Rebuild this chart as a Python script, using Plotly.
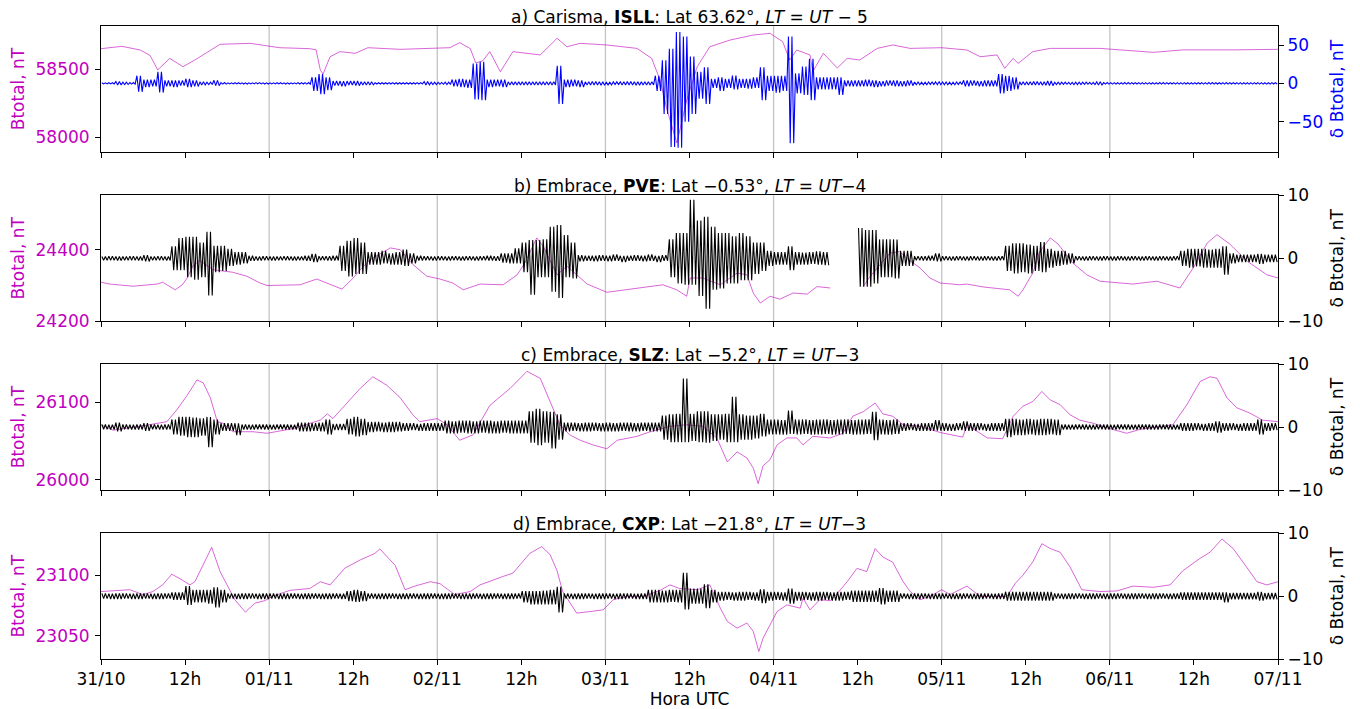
import plotly.graph_objects as go

# ---------------------------------------------------------------------------
# Data: hours since 31/10 00:00 UTC
# Btotal (left axis) samples: hour, nT
# ---------------------------------------------------------------------------
ISLL_T = [0, 3.0, 5.6, 7.0, 8.1, 9.8, 11.7, 13.4, 17.0, 21.3,
          25.5, 29.8, 30.7, 31.3, 31.7, 32.7, 34.1, 36.3, 38.1, 42.7,
          49.8, 51.2, 52.7, 53.5, 54.5, 55.5, 57.0, 58.8, 62.7, 65.1,
          66.5, 68.4, 72.2, 76.5, 78.6, 79.8, 80.8, 82.2, 83.6, 85.1,
          86.9, 89.8, 93.1, 95.5, 97.3, 98.3, 99.3, 101.2, 101.6, 103.1,
          105.1, 106.5, 108.3, 110.8, 113.0, 115.5, 120.0, 123.6, 125.5, 127.9,
          129.0, 130.2, 130.9, 133.0, 135.5, 142.6, 150.2, 154.4, 161.6, 168]
ISLL_B = [58649, 58666, 58639, 58600, 58493, 58578, 58517, 58566, 58681, 58688,
          58656, 58649, 58640, 58493, 58463, 58590, 58627, 58615, 58656, 58644,
          58656, 58693, 58650, 58544, 58560, 58627, 58480, 58627, 58603, 58725,
          58663, 58688, 58676, 58651, 58578, 58419, 58200, 57958, 58273, 58517,
          58663, 58712, 58749, 58761, 58700, 58566, 58639, 58603, 58480, 58615,
          58507, 58578, 58566, 58651, 58676, 58651, 58656, 58639, 58590, 58603,
          58505, 58578, 58541, 58627, 58651, 58651, 58622, 58640, 58640, 58644]

PVE_T = [0, 1.3, 4.6, 8.0, 8.8, 10.6, 11.6, 12.3, 13.1, 14.1,
         16.0, 18.8, 20.8, 22.7, 23.7, 28.4, 30.8, 32.3, 34.4, 36.0,
         37.0, 38.4, 41.3, 42.7, 44.5, 46.5, 48.4, 50.2, 51.7, 54.1,
         57.4, 59.4, 60.5, 62.2, 63.1, 65.1, 66.5, 67.9, 69.4, 72.2,
         76.5, 80.2, 82.2, 83.6, 84.1, 85.9, 88.4, 90.8, 92.2, 93.1,
         94.1, 95.5, 96.9, 98.8, 100.8, 102.2, 104.1, 106.0, 108.8, 109.8,
         110.8, 112.6, 114.0, 115.0, 116.9, 118.3, 119.8, 122.6, 123.6, 125.9,
         129.7, 130.9, 131.6, 133.0, 134.0, 135.5, 136.6, 138.7, 140.7, 142.6,
         147.3, 150.7, 154.0, 155.9, 157.9, 159.3, 161.1, 163.6, 166.4, 168]
PVE_B = [24309, 24304, 24298, 24304, 24309, 24288, 24302, 24321, 24354, 24370,
         24344, 24337, 24326, 24307, 24300, 24302, 24318, 24307, 24290, 24321,
         24344, 24372, 24405, 24400, 24359, 24326, 24318, 24307, 24288, 24304,
         24302, 24330, 24363, 24433, 24410, 24330, 24354, 24330, 24304, 24281,
         24293, 24302, 24288, 24270, 24321, 24321, 24302, 24335, 24330, 24279,
         24251, 24270, 24262, 24279, 24276, 24297, 24293, None, 24297, 24326,
         24349, 24390, 24395, 24376, 24349, 24321, 24307, 24302, 24304, 24296,
         24288, 24270, 24288, 24335, 24395, 24433, 24416, 24363, 24330, 24312,
         24304, 24312, 24293, 24349, 24419, 24442, 24416, 24368, 24330, 24321]

SLZ_T = [0, 1.7, 5.6, 9.4, 10.8, 12.3, 13.7, 14.6, 15.6, 16.6,
         17.4, 18.8, 21.7, 23.7, 27.4, 31.3, 32.3, 33.1, 35.1, 37.0,
         38.8, 40.8, 42.7, 44.5, 45.5, 48.0, 49.4, 51.2, 53.1, 55.5,
         58.4, 60.8, 62.7, 64.1, 65.5, 66.9, 68.4, 70.2, 72.2, 73.7,
         76.5, 78.4, 81.2, 83.6, 85.9, 87.9, 89.4, 90.8, 92.2, 93.1,
         93.8, 94.5, 95.5, 96.5, 97.9, 99.3, 100.2, 101.6, 104.1, 105.9,
         107.3, 108.8, 110.5, 111.6, 113.0, 114.5, 116.9, 119.8, 122.2, 123.0,
         123.6, 126.5, 128.7, 130.2, 131.6, 133.0, 134.3, 135.5, 136.9, 138.3,
         139.7, 141.6, 144.0, 146.4, 148.3, 153.0, 155.0, 156.9, 158.3, 159.3,
         160.7, 162.1, 164.0, 165.8, 168]
SLZ_B = [26071, 26064, 26069, 26075, 26090, 26109, 26129, 26125, 26106, 26075,
         26073, 26062, 26062, 26060, 26066, 26077, 26085, 26079, 26099, 26118,
         26133, 26122, 26106, 26084, 26075, 26079, 26071, 26051, 26058, 26096,
         26118, 26140, 26131, 26100, 26071, 26058, 26051, 26045, 26040, 26051,
         26056, 26062, 26069, 26071, 26069, 26054, 26023, 26036, 26028, 26015,
         25995, 26018, 26026, 26045, 26054, 26054, 26045, 26056, 26054, 26060,
         26082, 26088, 26099, 26085, 26082, 26071, 26069, 26061, 26056, 26055,
         26071, 26054, 26053, 26082, 26095, 26101, 26114, 26103, 26097, 26084,
         26077, 26073, 26066, 26060, 26065, 26071, 26097, 26127, 26133, 26131,
         26106, 26093, 26086, 26077, 26075]

CXP_T = [0, 1.3, 4.1, 6.0, 7.4, 8.8, 10.1, 11.3, 12.7, 13.4,
         14.8, 15.8, 17.0, 18.1, 19.1, 20.6, 22.0, 23.4, 24.6, 27.0,
         29.8, 31.3, 32.7, 34.8, 37.0, 39.1, 39.8, 42.0, 43.4, 44.8,
         47.0, 48.4, 50.5, 52.7, 54.1, 57.4, 58.8, 61.2, 62.9, 64.1,
         65.1, 65.9, 67.9, 69.8, 71.7, 73.1, 75.1, 77.4, 79.8, 81.2,
         82.6, 85.1, 86.9, 88.4, 89.4, 90.8, 92.2, 93.1, 93.9, 94.5,
         95.5, 96.5, 97.9, 99.8, 100.2, 101.2, 102.6, 104.1, 105.1, 106.5,
         107.9, 109.3, 110.5, 111.6, 113.0, 114.5, 115.5, 116.9, 118.3, 120.0,
         121.2, 123.6, 125.5, 129.3, 130.5, 131.6, 133.0, 134.3, 135.5, 136.9,
         138.3, 140.0, 142.6, 145.0, 147.3, 150.2, 152.6, 154.4, 156.9, 158.3,
         160.0, 161.6, 163.6, 165.0, 166.4, 168]
CXP_B = [23086.5, 23087, 23088, 23084, 23086.5, 23092, 23100.8, 23097, 23092, 23094.6,
         23111, 23123, 23103, 23090.7, 23079.7, 23069.5, 23077, 23079, 23082.9, 23087.5,
         23089, 23094.6, 23092, 23105.8, 23112.6, 23118, 23121.7, 23108, 23088, 23091,
         23094.6, 23093, 23084, 23086.5, 23092, 23099, 23101.7, 23118, 23123.6, 23117,
         23103.6, 23086.5, 23068.7, 23070, 23071.4, 23079.7, 23082.4, 23082.4, 23087.5, 23092,
         23089, 23088, 23092, 23072.8, 23061.8, 23056.3, 23060.5, 23053.6, 23037, 23048,
         23059, 23070, 23075.5, 23072.8, 23081, 23071.4, 23079.7, 23079, 23085, 23094.6,
         23105.6, 23103, 23122, 23115, 23110.8, 23094.6, 23086.5, 23079.7, 23082.4, 23088,
         23084, 23091, 23082.4, 23082.4, 23093.3, 23100, 23111, 23126, 23122, 23119,
         23107, 23088, 23086.5, 23087, 23091, 23090, 23092, 23103.6, 23114, 23119,
         23129.9, 23122, 23106, 23094.6, 23092, 23094.6]

# ---------------------------------------------------------------------------
# delta Btotal (right axis): hourly positive / negative excursions, nT
# ---------------------------------------------------------------------------
ISLL_DHI = [
    0.7, 0.8, 2.5, 1.5, 1.0, 10, 5, 5, 15, 4, 4, 4,
    6, 4, 2, 1.5, 4, 1.0, 0.7, 0.8, 0.7, 0.7, 0.9, 0.7,
    0.7, 0.8, 0.7, 0.7, 0.9, 1.0, 8, 12, 8, 3, 3, 3,
    3, 2, 2, 0.8, 0.8, 0.9, 0.8, 0.8, 0.8, 0.9, 2.5, 1.5,
    1.2, 1.5, 5, 6, 5, 26, 28, 5, 5, 5, 2, 2,
    2, 2, 2, 2, 2, 23, 5, 5, 4, 2, 2.5, 2,
    1.5, 2, 2, 2.5, 2, 2, 2, 10, 30, 45, 67, 61,
    35, 15, 21, 6, 8, 6, 10, 6, 6, 8, 21, 10,
    10, 10, 61, 13, 22, 32, 8, 8, 8, 8, 4, 4,
    4, 5, 4, 3, 4, 4, 3, 4, 1.8, 1.5, 1.8, 2,
    1.8, 1.5, 1.8, 4, 4, 3, 4, 4, 12, 10, 8, 2,
    2, 2.5, 2, 3, 1.5, 1.5, 1.2, 1.5, 1.5, 1.2, 2, 1.0,
    1.0, 0.8, 1.0, 1.0, 0.9, 1.0, 0.8, 1.0, 1.0, 0.9, 1.0, 0.8,
    1.0, 0.9, 1.0, 0.8, 1.0, 1.0, 0.9, 0.8, 1.0, 0.9, 0.8, 1.0,
]
ISLL_DLO = [
    0.7, 0.7, 2.0, 1.5, 1.0, 11, 5, 4, 12, 4, 5, 3,
    5, 4, 2, 1.5, 3, 1.0, 0.7, 0.7, 0.8, 0.7, 0.7, 0.8,
    0.7, 0.7, 0.8, 0.7, 0.8, 1.0, 10, 14, 9, 3, 4, 2,
    3, 2, 2, 0.8, 0.9, 0.8, 0.8, 0.9, 0.8, 0.8, 2.0, 1.5,
    1.2, 1.5, 4, 5, 6, 21, 22, 5, 4, 5, 2, 2,
    2, 2, 2, 2, 2, 27, 5, 4, 5, 2, 2, 2.5,
    2, 1.5, 2, 2, 2.5, 2, 2, 10, 40, 83, 84, 50,
    40, 20, 27, 6, 10, 6, 8, 6, 7, 6, 22, 10,
    12, 10, 78, 13, 15, 22, 8, 8, 8, 15, 4, 4,
    4, 4, 5, 4, 3, 4, 4, 3, 1.8, 1.8, 1.5, 1.8,
    1.8, 1.8, 1.5, 4, 3, 4, 4, 4, 13, 10, 8, 2,
    2, 2, 2.5, 3, 1.5, 1.2, 1.5, 1.5, 1.2, 1.5, 2, 1.0,
    0.9, 1.0, 1.0, 0.8, 1.0, 0.9, 1.0, 1.0, 0.8, 1.0, 0.9, 1.0,
    0.8, 1.0, 1.0, 0.9, 1.0, 0.8, 1.0, 1.0, 0.9, 1.0, 1.0, 0.8,
]

PVE_DHI = [
    0.3, 0.35, 0.3, 0.3, 0.35, 0.3, 0.5, 0.3, 0.35, 0.3, 1.9, 3.2,
    3.4, 3.4, 2.5, 4.2, 2.0, 2.0, 1.5, 1.0, 1.0, 0.4, 0.3, 0.35,
    0.3, 0.3, 0.35, 0.3, 0.3, 0.4, 0.7, 0.35, 0.35, 0.4, 2.0, 2.8,
    3.2, 2.5, 1.0, 1.0, 1.2, 0.8, 1.0, 1.4, 0.8, 0.4, 0.35, 0.3,
    0.35, 0.3, 0.35, 0.3, 0.35, 0.3, 0.35, 0.4, 0.35, 0.8, 0.8, 1.6,
    2.5, 2.9, 2.9, 3.0, 5.0, 5.3, 3.7, 2.5, 0.5, 0.4, 0.4, 0.5,
    0.4, 0.6, 0.4, 0.4, 0.5, 0.4, 0.6, 0.4, 0.5, 3.0, 4.0, 4.0,
    9.3, 6.0, 6.6, 5.0, 4.0, 4.0, 3.5, 4.0, 3.5, 2.5, 2.5, 1.2,
    1.0, 1.0, 1.9, 1.0, 0.9, 1.0, 1.1, 1.0, None, None, None, None,
    4.8, 4.5, 4.5, 3.0, 3.0, 3.0, 1.2, 1.2, 0.35, 0.35, 0.4, 0.8,
    0.35, 0.3, 0.35, 0.3, 0.35, 0.3, 0.35, 0.3, 0.35, 2.0, 2.4, 2.4,
    2.2, 2.0, 2.6, 1.5, 1.2, 1.2, 0.8, 0.35, 0.3, 0.35, 0.3, 0.35,
    0.3, 0.35, 0.3, 0.35, 0.3, 0.35, 0.3, 0.35, 0.3, 0.35, 1.2, 1.5,
    1.5, 1.5, 1.4, 1.5, 1.9, 0.8, 0.6, 0.6, 0.6, 0.7, 0.6, 0.6,
]
PVE_DLO = [
    0.3, 0.3, 0.35, 0.3, 0.3, 0.35, 0.5, 0.3, 0.3, 0.35, 1.9, 1.9,
    3.0, 3.4, 3.0, 5.9, 2.2, 2.0, 1.2, 1.0, 0.8, 0.4, 0.35, 0.3,
    0.35, 0.3, 0.3, 0.35, 0.3, 0.4, 0.6, 0.3, 0.35, 0.35, 2.0, 2.9,
    2.5, 2.5, 1.0, 1.0, 0.8, 1.0, 1.0, 1.2, 0.8, 0.35, 0.3, 0.35,
    0.3, 0.35, 0.3, 0.35, 0.3, 0.35, 0.3, 0.35, 0.4, 0.7, 0.8, 0.8,
    2.2, 5.8, 3.0, 3.0, 5.3, 6.3, 3.0, 3.2, 0.5, 0.4, 0.5, 0.4,
    0.5, 0.4, 0.6, 0.4, 0.4, 0.5, 0.4, 0.6, 0.4, 3.0, 4.0, 4.2,
    4.2, 6.0, 8.0, 5.0, 4.8, 4.0, 4.0, 3.5, 3.5, 2.5, 2.0, 1.2,
    1.0, 1.0, 1.9, 1.0, 1.0, 0.9, 1.0, 1.1, None, None, None, None,
    4.5, 4.5, 4.0, 3.0, 3.0, 3.2, 1.2, 1.2, 0.3, 0.35, 0.35, 0.5,
    0.3, 0.35, 0.3, 0.35, 0.3, 0.35, 0.3, 0.35, 0.3, 2.0, 2.4, 2.2,
    2.4, 2.0, 2.2, 1.5, 1.2, 1.0, 0.8, 0.3, 0.35, 0.3, 0.35, 0.3,
    0.35, 0.3, 0.35, 0.3, 0.35, 0.3, 0.35, 0.3, 0.35, 0.3, 1.2, 1.5,
    1.3, 1.5, 1.5, 1.5, 2.6, 0.8, 0.6, 0.6, 0.6, 0.9, 0.6, 0.6,
]

SLZ_DHI = [
    0.4, 0.35, 0.7, 0.4, 0.35, 0.4, 0.6, 0.4, 0.35, 0.4, 1.2, 1.6,
    1.6, 1.5, 1.4, 1.6, 1.2, 0.6, 0.6, 0.6, 0.4, 0.35, 0.4, 0.4,
    0.35, 0.4, 0.4, 0.35, 0.7, 0.7, 0.6, 0.7, 1.2, 0.5, 0.5, 1.3,
    1.6, 1.3, 0.8, 0.8, 0.7, 0.8, 0.8, 0.6, 0.6, 0.5, 0.6, 0.6,
    0.6, 1.0, 0.9, 1.0, 1.0, 0.9, 1.0, 1.0, 0.9, 1.0, 1.0, 1.0,
    1.0, 2.5, 2.9, 2.5, 2.4, 2.0, 0.7, 0.7, 0.6, 0.7, 0.7, 0.6,
    0.7, 0.6, 0.7, 0.7, 0.6, 0.7, 0.7, 0.7, 1.8, 2.0, 2.1, 7.7,
    2.1, 2.5, 2.5, 2.0, 2.0, 2.1, 4.8, 2.0, 1.8, 1.8, 2.1, 1.2,
    1.2, 1.1, 2.6, 1.2, 1.2, 1.1, 1.2, 1.2, 1.1, 1.2, 1.2, 1.1,
    1.2, 1.2, 2.4, 1.2, 1.1, 1.2, 0.6, 0.6, 0.5, 0.6, 0.6, 1.1,
    0.6, 0.5, 0.6, 0.9, 0.6, 0.6, 0.5, 0.6, 0.6, 1.3, 1.3, 1.2,
    1.3, 1.2, 1.3, 1.3, 1.2, 0.4, 0.35, 0.4, 0.4, 0.35, 0.4, 0.4,
    0.35, 0.4, 0.4, 0.35, 0.4, 0.4, 0.35, 0.4, 0.4, 0.35, 0.6, 0.6,
    0.6, 0.5, 0.6, 0.9, 0.6, 0.6, 0.5, 0.6, 0.6, 1.2, 0.6, 0.6,
]
SLZ_DLO = [
    0.35, 0.4, 0.7, 0.35, 0.4, 0.4, 0.6, 0.35, 0.4, 0.4, 1.2, 1.4,
    1.6, 1.6, 1.4, 3.2, 1.2, 0.6, 0.6, 1.3, 0.4, 0.4, 0.35, 0.4,
    0.4, 0.35, 0.4, 0.4, 0.7, 0.7, 0.6, 0.7, 1.2, 0.5, 0.5, 1.2,
    1.5, 1.3, 0.8, 0.7, 0.8, 0.8, 0.7, 0.6, 0.5, 0.6, 0.6, 0.6,
    0.6, 1.0, 1.0, 0.9, 1.0, 1.0, 0.9, 1.0, 1.0, 0.9, 1.0, 1.0,
    1.0, 2.5, 2.9, 2.5, 3.4, 2.0, 0.7, 0.6, 0.7, 0.7, 0.6, 0.7,
    0.7, 0.7, 0.6, 0.7, 0.7, 0.6, 0.7, 0.7, 2.0, 2.4, 2.4, 2.4,
    2.2, 2.4, 2.5, 2.2, 2.0, 2.4, 2.4, 2.0, 2.0, 1.8, 1.5, 1.2,
    1.2, 1.2, 1.1, 1.2, 1.1, 1.2, 1.2, 1.1, 1.2, 1.2, 1.1, 1.2,
    1.2, 1.1, 2.1, 1.2, 1.2, 1.1, 0.6, 0.5, 0.6, 0.6, 0.6, 0.6,
    0.6, 0.6, 0.5, 0.6, 0.6, 0.5, 0.6, 0.6, 0.6, 1.6, 1.3, 1.3,
    1.2, 1.3, 1.3, 1.2, 1.3, 0.4, 0.4, 0.35, 0.4, 0.4, 0.35, 0.4,
    0.4, 0.35, 0.4, 0.4, 0.35, 0.4, 0.4, 0.35, 0.4, 0.4, 0.6, 0.6,
    0.5, 0.6, 0.6, 0.9, 0.6, 0.5, 0.6, 0.6, 0.6, 1.2, 0.6, 0.5,
]

CXP_DHI = [
    0.45, 0.4, 0.45, 0.45, 0.4, 0.45, 0.45, 0.4, 0.45, 0.45, 0.6, 0.6,
    1.6, 1.0, 1.0, 1.0, 1.4, 1.0, 0.45, 0.4, 0.45, 0.45, 0.4, 0.45,
    0.45, 0.4, 0.45, 0.45, 0.4, 0.45, 0.45, 0.4, 0.45, 0.45, 0.4, 0.8,
    1.0, 0.8, 0.45, 0.4, 0.45, 0.45, 0.4, 0.45, 0.45, 0.4, 0.45, 0.45,
    0.4, 0.45, 0.45, 0.4, 0.45, 0.45, 0.4, 0.45, 0.45, 0.4, 0.45, 0.45,
    0.8, 0.8, 0.8, 0.9, 1.0, 1.5, 0.45, 0.4, 0.45, 0.45, 0.4, 0.45,
    0.45, 0.4, 0.45, 0.45, 0.4, 0.45, 1.0, 1.0, 0.9, 1.0, 1.0, 3.7,
    1.2, 1.2, 1.9, 1.0, 0.7, 0.7, 0.6, 0.7, 0.7, 0.6, 1.1, 0.7,
    0.7, 0.6, 1.2, 0.7, 0.7, 0.6, 0.7, 0.7, 0.6, 0.7, 0.7, 0.9,
    0.9, 0.9, 0.9, 1.3, 0.9, 0.9, 0.45, 0.4, 0.45, 0.45, 0.4, 0.45,
    0.45, 0.4, 0.45, 0.45, 0.4, 0.45, 0.45, 0.4, 0.45, 0.7, 0.7, 0.7,
    0.7, 0.7, 0.7, 0.7, 0.45, 0.4, 0.45, 0.45, 0.4, 0.45, 0.45, 0.4,
    0.45, 0.45, 0.4, 0.45, 0.45, 0.4, 0.45, 0.45, 0.4, 0.45, 0.6, 0.6,
    0.6, 0.6, 0.6, 0.6, 0.6, 0.5, 0.5, 0.5, 0.5, 0.7, 0.5, 0.5,
]
CXP_DLO = [
    0.4, 0.45, 0.45, 0.4, 0.45, 0.45, 0.4, 0.45, 0.45, 0.4, 0.6, 0.6,
    1.4, 1.0, 1.0, 1.2, 1.8, 1.0, 0.4, 0.45, 0.45, 0.4, 0.45, 0.45,
    0.4, 0.45, 0.45, 0.4, 0.45, 0.45, 0.4, 0.45, 0.45, 0.4, 0.45, 0.8,
    0.9, 0.8, 0.4, 0.45, 0.45, 0.4, 0.45, 0.45, 0.4, 0.45, 0.45, 0.4,
    0.45, 0.45, 0.4, 0.45, 0.45, 0.4, 0.45, 0.45, 0.4, 0.45, 0.45, 0.4,
    1.0, 1.3, 1.3, 1.3, 1.3, 2.6, 0.4, 0.45, 0.45, 0.4, 0.45, 0.45,
    0.4, 0.45, 0.45, 0.4, 0.45, 0.45, 1.0, 1.0, 1.0, 0.9, 1.0, 2.1,
    1.2, 1.2, 1.9, 1.0, 0.7, 0.6, 0.7, 0.7, 0.6, 0.7, 1.1, 0.7,
    0.6, 0.7, 1.2, 0.7, 0.6, 0.7, 0.7, 0.6, 0.7, 0.7, 0.6, 0.9,
    0.9, 0.9, 0.9, 1.3, 0.9, 0.9, 0.4, 0.45, 0.45, 0.4, 0.45, 0.45,
    0.4, 0.45, 0.45, 0.4, 0.45, 0.45, 0.4, 0.45, 0.45, 0.7, 0.7, 0.7,
    0.7, 0.7, 0.7, 0.7, 0.4, 0.45, 0.45, 0.4, 0.45, 0.45, 0.4, 0.45,
    0.45, 0.4, 0.45, 0.45, 0.4, 0.45, 0.45, 0.4, 0.45, 0.45, 0.6, 0.6,
    0.6, 0.6, 0.6, 0.6, 1.0, 0.5, 0.5, 0.5, 0.5, 0.7, 0.5, 0.5,
]

X_TICK_HOURS = list(range(0, 169, 12))
X_TICK_TEXT = ["31/10", "12h", "01/11", "12h", "02/11", "12h", "03/11", "12h",
               "04/11", "12h", "05/11", "12h", "06/11", "12h", "07/11"]

TITLES = [
    "a) Carisma, <b>ISLL</b>: Lat 63.62°, <i>LT</i> = <i>UT</i> − 5",
    "b) Embrace, <b>PVE</b>: Lat −0.53°, <i>LT</i> = <i>UT</i>−4",
    "c) Embrace, <b>SLZ</b>: Lat −5.2°, <i>LT</i> = <i>UT</i>−3",
    "d) Embrace, <b>CXP</b>: Lat −21.8°, <i>LT</i> = <i>UT</i>−3",
]

# ---------------------------------------------------------------------------
# Layout constants
# ---------------------------------------------------------------------------
W, H = 1360, 709
ML, MR, MT, MB = 101, 82, 26, 50
PH = H - MT - MB
FONT = "DejaVu Sans"
MAG = "rgba(191,0,191,0.8)"
MAG_TEXT = "#bf00bf"
GRID = "#c4c4c4"


def domain(top_px, bottom_px):
    lo = (H - MB - bottom_px) / PH
    hi = (H - MB - top_px) / PH
    return [max(0.0, lo), min(1.0, hi)]


panels = [
    dict(t=ISLL_T, b=ISLL_B, dhi=ISLL_DHI, dlo=ISLL_DLO, px=(26, 152),
         yl=[57892, 58815], yl_ticks=[58000, 58500],
         yr=[-89.5, 74.8], yr_ticks=[-50, 0, 50], dcol="#0000ff"),
    dict(t=PVE_T, b=PVE_B, dhi=PVE_DHI, dlo=PVE_DLO, px=(195.3, 321.3),
         yl=[24200, 24552], yl_ticks=[24200, 24400],
         yr=[-10, 10], yr_ticks=[-10, 0, 10], dcol="#000000"),
    dict(t=SLZ_T, b=SLZ_B, dhi=SLZ_DHI, dlo=SLZ_DLO, px=(364, 490),
         yl=[25986.7, 26149.5], yl_ticks=[26000, 26100],
         yr=[-10, 10], yr_ticks=[-10, 0, 10], dcol="#000000"),
    dict(t=CXP_T, b=CXP_B, dhi=CXP_DHI, dlo=CXP_DLO, px=(533.3, 659),
         yl=[23030.8, 23134.6], yl_ticks=[23050, 23100],
         yr=[-10, 10], yr_ticks=[-10, 0, 10], dcol="#000000"),
]

fig = go.Figure()
layout = dict(
    width=W, height=H,
    margin=dict(l=ML, r=MR, t=MT, b=MB, autoexpand=False),
    paper_bgcolor="white", plot_bgcolor="white",
    showlegend=False,
    font=dict(family=FONT, size=17, color="black"),
)
shapes, annotations = [], []

for i, p in enumerate(panels):
    assert len(p["dhi"]) == 168 and len(p["dlo"]) == 168
    n = i + 1
    xname = "x" if n == 1 else f"x{n}"
    yl_name = f"y{2 * n - 1}" if n > 1 else "y"
    yr_name = f"y{2 * n}"
    xkey = "xaxis" if n == 1 else f"xaxis{n}"
    ylkey = "yaxis" if n == 1 else f"yaxis{2 * n - 1}"
    yrkey = f"yaxis{2 * n}"
    dom = domain(*p["px"])
    last = (i == len(panels) - 1)

    # Btotal on the left axis
    fig.add_trace(go.Scatter(x=p["t"], y=p["b"], mode="lines",
                             line=dict(color=MAG, width=0.75),
                             connectgaps=False, xaxis=xname, yaxis=yl_name,
                             hoverinfo="skip"))

    # delta Btotal on the right axis: each hour swings between its
    # positive and negative excursion (two swings per hour)
    dx, dy = [], []
    for h in range(168):
        up, dn = p["dhi"][h], p["dlo"][h]
        low = None if dn is None else -dn
        dx += [h + 0.125, h + 0.375, h + 0.625, h + 0.875]
        dy += [up, low, up, low]
    fig.add_trace(go.Scatter(x=dx, y=dy, mode="lines",
                             line=dict(color=p["dcol"], width=1.1),
                             connectgaps=False, xaxis=xname, yaxis=yr_name,
                             hoverinfo="skip"))

    layout[xkey] = dict(
        domain=[0, 1], anchor=yl_name, range=[0, 168], automargin=False,
        tickmode="array", tickvals=X_TICK_HOURS, ticktext=X_TICK_TEXT,
        showticklabels=last, ticks="outside", ticklen=5, tickwidth=1,
        tickcolor="black", showgrid=False, zeroline=False,
        showline=True, mirror=True, linecolor="black", linewidth=1,
        tickfont=dict(size=17, color="black"),
    )
    if n > 1:
        layout[xkey]["matches"] = "x"
    if last:
        layout[xkey]["title"] = dict(text="Hora UTC", font=dict(size=17),
                                     standoff=6)

    layout[ylkey] = dict(
        domain=dom, anchor=xname, range=p["yl"], automargin=False,
        tickmode="array", tickvals=p["yl_ticks"], tickformat="d",
        ticks="outside", ticklen=5, tickwidth=1, tickcolor="black",
        showgrid=False, zeroline=False,
        showline=True, mirror=True, linecolor="black", linewidth=1,
        tickfont=dict(size=17, color=MAG_TEXT), ticklabelstandoff=2,
        title=dict(text="Btotal, nT", font=dict(size=17, color=MAG_TEXT),
                   standoff=6),
    )
    rcol = p["dcol"]
    layout[yrkey] = dict(
        overlaying=yl_name, side="right", anchor=xname, range=p["yr"],
        automargin=False,
        tickmode="array", tickvals=p["yr_ticks"], ticks="outside",
        ticklen=5, tickwidth=1, tickcolor="black", showgrid=False,
        zeroline=False, showline=False,
        tickfont=dict(size=17, color=rcol),
        title=dict(text="δ Btotal, nT", font=dict(size=17, color=rcol),
                   standoff=8),
    )

    # daily vertical grid lines
    for d in range(24, 168, 24):
        shapes.append(dict(type="line", xref=xname, yref=f"{yl_name} domain",
                           x0=d, x1=d, y0=0, y1=1, layer="below",
                           line=dict(color=GRID, width=1.3)))

    annotations.append(dict(text=TITLES[i], xref="paper", yref="paper",
                            x=0.5, y=dom[1], xanchor="center",
                            yanchor="bottom", yshift=-3, showarrow=False,
                            font=dict(size=17, color="black")))

layout["shapes"] = shapes
layout["annotations"] = annotations
fig.update_layout(**layout)

fig.write_html("out.html")
